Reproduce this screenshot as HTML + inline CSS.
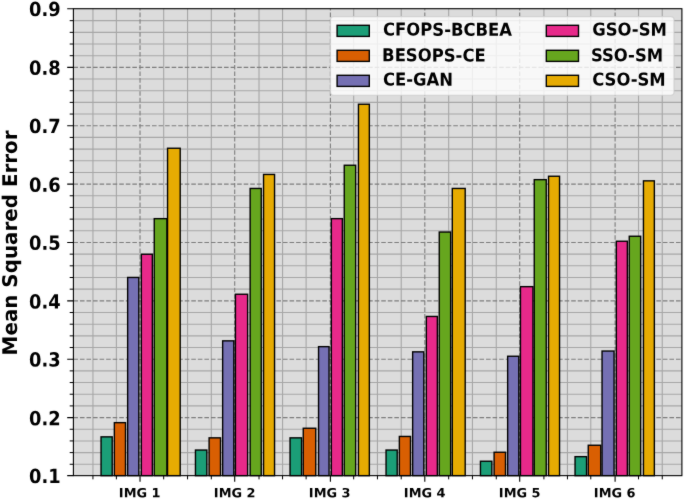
<!DOCTYPE html>
<html><head><meta charset="utf-8"><title>Mean Squared Error</title>
<style>html,body{margin:0;padding:0;background:#fff}svg{display:block}</style></head>
<body>
<svg width="685" height="499" viewBox="0 0 685 499" font-family='"DejaVu Sans","Liberation Sans",sans-serif' font-weight="bold">
<defs><filter id="soft" x="0" y="0" width="685" height="499" filterUnits="userSpaceOnUse" color-interpolation-filters="sRGB"><feConvolveMatrix order="3" kernelMatrix="0.015 0.06 0.015 0.06 0.700 0.06 0.015 0.06 0.015" edgeMode="duplicate" preserveAlpha="true"/></filter></defs>
<rect x="0" y="0" width="685" height="499" fill="#fff"/>
<g filter="url(#soft)">
<rect x="-5" y="-5" width="695" height="509" fill="#fff"/>
<rect x="73.4" y="8.7" width="608.5" height="466.95" fill="#dcdcdc"/>
<path d="M92.95 8.7V475.65M116.38 8.7V475.65M163.68 8.7V475.65M187.55 8.7V475.65M211.32 8.7V475.65M259.02 8.7V475.65M282.55 8.7V475.65M306.12 8.7V475.65M353.68 8.7V475.65M377.45 8.7V475.65M401.23 8.7V475.65M448.68 8.7V475.65M472.45 8.7V475.65M496.27 8.7V475.65M543.92 8.7V475.65M567.45 8.7V475.65M590.77 8.7V475.65M638.52 8.7V475.65M662.25 8.7V475.65M73.4 464.28H681.9M73.4 452.6H681.9M73.4 440.93H681.9M73.4 429.25H681.9M73.4 405.91H681.9M73.4 394.23H681.9M73.4 382.56H681.9M73.4 370.89H681.9M73.4 347.54H681.9M73.4 335.87H681.9M73.4 324.19H681.9M73.4 312.52H681.9M73.4 289.17H681.9M73.4 277.5H681.9M73.4 265.82H681.9M73.4 254.15H681.9M73.4 230.8H681.9M73.4 219.13H681.9M73.4 207.45H681.9M73.4 195.78H681.9M73.4 172.43H681.9M73.4 160.76H681.9M73.4 149.08H681.9M73.4 137.41H681.9M73.4 114.06H681.9M73.4 102.39H681.9M73.4 90.72H681.9M73.4 79.04H681.9M73.4 55.69H681.9M73.4 44.02H681.9M73.4 32.35H681.9M73.4 20.67H681.9" stroke="#a6a6a6" stroke-width="1.1" fill="none"/>
<path d="M140.03 475.65V8.7M234.7 475.65V8.7M330.4 475.65V8.7M424.8 475.65V8.7M519.7 475.65V8.7M615.1 475.65V8.7M73.4 417.58H681.9M73.4 359.21H681.9M73.4 300.84H681.9M73.4 242.47H681.9M73.4 184.11H681.9M73.4 125.74H681.9M73.4 67.37H681.9" stroke="#7c7c7c" stroke-width="1.1" stroke-dasharray="4.57 1.98" fill="none"/>
<rect x="101.05" y="436.85" width="11.15" height="38.80" fill="#1b9e77" stroke="#000" stroke-opacity="1" stroke-width="1.39"/>
<rect x="114.35" y="422.65" width="11.15" height="53.00" fill="#d95f02" stroke="#000" stroke-opacity="1" stroke-width="1.39"/>
<rect x="127.65" y="277.45" width="11.15" height="198.20" fill="#7570b3" stroke="#000" stroke-opacity="1" stroke-width="1.39"/>
<rect x="141.35" y="254.25" width="11.00" height="221.40" fill="#e7298a" stroke="#000" stroke-opacity="1" stroke-width="1.39"/>
<rect x="154.25" y="218.65" width="12.65" height="257.00" fill="#66a61e" stroke="#000" stroke-opacity="1" stroke-width="1.39"/>
<rect x="167.55" y="148.25" width="12.65" height="327.40" fill="#e6ab02" stroke="#000" stroke-opacity="1" stroke-width="1.39"/>
<rect x="195.45" y="450.05" width="11.40" height="25.60" fill="#1b9e77" stroke="#000" stroke-opacity="1" stroke-width="1.39"/>
<rect x="209.10" y="437.85" width="11.40" height="37.80" fill="#d95f02" stroke="#000" stroke-opacity="1" stroke-width="1.39"/>
<rect x="222.65" y="340.85" width="11.15" height="134.80" fill="#7570b3" stroke="#000" stroke-opacity="1" stroke-width="1.39"/>
<rect x="235.45" y="294.25" width="12.15" height="181.40" fill="#e7298a" stroke="#000" stroke-opacity="1" stroke-width="1.39"/>
<rect x="250.15" y="188.45" width="11.10" height="287.20" fill="#66a61e" stroke="#000" stroke-opacity="1" stroke-width="1.39"/>
<rect x="263.55" y="174.45" width="11.00" height="301.20" fill="#e6ab02" stroke="#000" stroke-opacity="1" stroke-width="1.39"/>
<rect x="290.05" y="437.85" width="11.50" height="37.80" fill="#1b9e77" stroke="#000" stroke-opacity="1" stroke-width="1.39"/>
<rect x="303.25" y="428.25" width="12.50" height="47.40" fill="#d95f02" stroke="#000" stroke-opacity="1" stroke-width="1.39"/>
<rect x="318.55" y="346.65" width="10.50" height="129.00" fill="#7570b3" stroke="#000" stroke-opacity="1" stroke-width="1.39"/>
<rect x="331.35" y="218.65" width="11.00" height="257.00" fill="#e7298a" stroke="#000" stroke-opacity="1" stroke-width="1.39"/>
<rect x="344.25" y="165.25" width="11.40" height="310.40" fill="#66a61e" stroke="#000" stroke-opacity="1" stroke-width="1.39"/>
<rect x="358.45" y="104.25" width="10.90" height="371.40" fill="#e6ab02" stroke="#000" stroke-opacity="1" stroke-width="1.39"/>
<rect x="386.05" y="450.05" width="11.15" height="25.60" fill="#1b9e77" stroke="#000" stroke-opacity="1" stroke-width="1.39"/>
<rect x="399.35" y="436.45" width="11.15" height="39.20" fill="#d95f02" stroke="#000" stroke-opacity="1" stroke-width="1.39"/>
<rect x="412.65" y="351.85" width="11.15" height="123.80" fill="#7570b3" stroke="#000" stroke-opacity="1" stroke-width="1.39"/>
<rect x="426.35" y="316.45" width="11.00" height="159.20" fill="#e7298a" stroke="#000" stroke-opacity="1" stroke-width="1.39"/>
<rect x="439.25" y="232.05" width="11.40" height="243.60" fill="#66a61e" stroke="#000" stroke-opacity="1" stroke-width="1.39"/>
<rect x="452.30" y="188.45" width="12.90" height="287.20" fill="#e6ab02" stroke="#000" stroke-opacity="1" stroke-width="1.39"/>
<rect x="480.45" y="461.25" width="11.40" height="14.40" fill="#1b9e77" stroke="#000" stroke-opacity="1" stroke-width="1.39"/>
<rect x="494.10" y="452.25" width="11.40" height="23.40" fill="#d95f02" stroke="#000" stroke-opacity="1" stroke-width="1.39"/>
<rect x="507.65" y="356.25" width="11.15" height="119.40" fill="#7570b3" stroke="#000" stroke-opacity="1" stroke-width="1.39"/>
<rect x="520.45" y="286.65" width="12.50" height="189.00" fill="#e7298a" stroke="#000" stroke-opacity="1" stroke-width="1.39"/>
<rect x="534.25" y="179.65" width="12.00" height="296.00" fill="#66a61e" stroke="#000" stroke-opacity="1" stroke-width="1.39"/>
<rect x="548.55" y="176.25" width="11.00" height="299.40" fill="#e6ab02" stroke="#000" stroke-opacity="1" stroke-width="1.39"/>
<rect x="575.05" y="456.65" width="11.50" height="19.00" fill="#1b9e77" stroke="#000" stroke-opacity="1" stroke-width="1.39"/>
<rect x="588.25" y="445.25" width="12.50" height="30.40" fill="#d95f02" stroke="#000" stroke-opacity="1" stroke-width="1.39"/>
<rect x="602.05" y="351.05" width="12.00" height="124.60" fill="#7570b3" stroke="#000" stroke-opacity="1" stroke-width="1.39"/>
<rect x="616.35" y="241.25" width="11.00" height="234.40" fill="#e7298a" stroke="#000" stroke-opacity="1" stroke-width="1.39"/>
<rect x="629.25" y="236.25" width="11.40" height="239.40" fill="#66a61e" stroke="#000" stroke-opacity="1" stroke-width="1.39"/>
<rect x="643.45" y="180.85" width="10.90" height="294.80" fill="#e6ab02" stroke="#000" stroke-opacity="1" stroke-width="1.39"/>
<rect x="73.4" y="8.7" width="608.5" height="466.95" fill="none" stroke="#000" stroke-width="1.1"/>
<path d="M140.03 475.65v6.2M234.7 475.65v6.2M330.4 475.65v6.2M424.8 475.65v6.2M519.7 475.65v6.2M615.1 475.65v6.2M73.4 475.65h-6.2M73.4 417.58h-6.2M73.4 359.21h-6.2M73.4 300.84h-6.2M73.4 242.47h-6.2M73.4 184.11h-6.2M73.4 125.74h-6.2M73.4 67.37h-6.2M73.4 8.7h-6.2" stroke="#000" stroke-width="1.1" fill="none"/>
<path d="M92.95 475.65v3.7M116.38 475.65v3.7M163.68 475.65v3.7M187.55 475.65v3.7M211.32 475.65v3.7M259.02 475.65v3.7M282.55 475.65v3.7M306.12 475.65v3.7M353.68 475.65v3.7M377.45 475.65v3.7M401.23 475.65v3.7M448.68 475.65v3.7M472.45 475.65v3.7M496.27 475.65v3.7M543.92 475.65v3.7M567.45 475.65v3.7M590.77 475.65v3.7M638.52 475.65v3.7M662.25 475.65v3.7M73.4 464.28h-3.7M73.4 452.6h-3.7M73.4 440.93h-3.7M73.4 429.25h-3.7M73.4 405.91h-3.7M73.4 394.23h-3.7M73.4 382.56h-3.7M73.4 370.89h-3.7M73.4 347.54h-3.7M73.4 335.87h-3.7M73.4 324.19h-3.7M73.4 312.52h-3.7M73.4 289.17h-3.7M73.4 277.5h-3.7M73.4 265.82h-3.7M73.4 254.15h-3.7M73.4 230.8h-3.7M73.4 219.13h-3.7M73.4 207.45h-3.7M73.4 195.78h-3.7M73.4 172.43h-3.7M73.4 160.76h-3.7M73.4 149.08h-3.7M73.4 137.41h-3.7M73.4 114.06h-3.7M73.4 102.39h-3.7M73.4 90.72h-3.7M73.4 79.04h-3.7M73.4 55.69h-3.7M73.4 44.02h-3.7M73.4 32.35h-3.7M73.4 20.67h-3.7" stroke="#000" stroke-width="1.0" fill="none"/>
<text transform="translate(60.7 483.00) rotate(0.03) scale(0.92 1)" font-size="19.44" text-anchor="end">0.1</text>
<text transform="translate(60.7 425.23) rotate(0.03) scale(0.92 1)" font-size="19.44" text-anchor="end">0.2</text>
<text transform="translate(60.7 366.56) rotate(0.03) scale(0.92 1)" font-size="19.44" text-anchor="end">0.3</text>
<text transform="translate(60.7 308.44) rotate(0.03) scale(0.92 1)" font-size="19.44" text-anchor="end">0.4</text>
<text transform="translate(60.7 249.67) rotate(0.03) scale(0.92 1)" font-size="19.44" text-anchor="end">0.5</text>
<text transform="translate(60.7 191.81) rotate(0.03) scale(0.92 1)" font-size="19.44" text-anchor="end">0.6</text>
<text transform="translate(60.7 132.99) rotate(0.03) scale(0.92 1)" font-size="19.44" text-anchor="end">0.7</text>
<text transform="translate(60.7 74.77) rotate(0.03) scale(0.92 1)" font-size="19.44" text-anchor="end">0.8</text>
<text transform="translate(60.7 15.95) rotate(0.03) scale(0.92 1)" font-size="19.44" text-anchor="end">0.9</text>
<text transform="translate(139.70 497.25) rotate(0.03) scale(1.025 1)" font-size="12.6" text-anchor="middle">IMG 1</text>
<text transform="translate(234.70 497.25) rotate(0.03) scale(1.025 1)" font-size="12.6" text-anchor="middle">IMG 2</text>
<text transform="translate(329.70 497.25) rotate(0.03) scale(1.025 1)" font-size="12.6" text-anchor="middle">IMG 3</text>
<text transform="translate(424.70 497.25) rotate(0.03) scale(1.025 1)" font-size="12.6" text-anchor="middle">IMG 4</text>
<text transform="translate(519.70 497.25) rotate(0.03) scale(1.025 1)" font-size="12.6" text-anchor="middle">IMG 5</text>
<text transform="translate(614.70 497.25) rotate(0.03) scale(1.025 1)" font-size="12.6" text-anchor="middle">IMG 6</text>
<text transform="translate(17.0 242.9) rotate(-90.03) scale(0.985 1)" font-size="20.2" text-anchor="middle">Mean Squared Error</text>
<rect x="330.5" y="16.6" width="343.5" height="78.6" rx="3.2" ry="3.2" fill="#fff" fill-opacity="0.8" stroke="#ccc" stroke-opacity="0.8" stroke-width="1.1"/>
<rect x="337.1" y="25.30" width="32.2" height="11.1" fill="#1b9e77" stroke="#000" stroke-width="1.39"/>
<text transform="translate(383.0 35.6) rotate(0.03) scale(0.929 1)" font-size="17.7">CFOPS-BCBEA</text>
<rect x="337.1" y="50.30" width="32.2" height="11.1" fill="#d95f02" stroke="#000" stroke-width="1.39"/>
<text transform="translate(382.1 61.35) rotate(0.03) scale(0.929 1)" font-size="17.7">BESOPS-CE</text>
<rect x="337.1" y="75.30" width="32.2" height="11.1" fill="#7570b3" stroke="#000" stroke-width="1.39"/>
<text transform="translate(383.0 85.6) rotate(0.03) scale(0.929 1)" font-size="17.7">CE-GAN</text>
<rect x="546.3" y="25.30" width="32.2" height="11.1" fill="#e7298a" stroke="#000" stroke-width="1.39"/>
<text transform="translate(592.2 35.6) rotate(0.03) scale(0.929 1)" font-size="17.7">GSO-SM</text>
<rect x="546.3" y="50.30" width="32.2" height="11.1" fill="#66a61e" stroke="#000" stroke-width="1.39"/>
<text transform="translate(590.9 61.35) rotate(0.03) scale(0.929 1)" font-size="17.7">SSO-SM</text>
<rect x="546.3" y="75.30" width="32.2" height="11.1" fill="#e6ab02" stroke="#000" stroke-width="1.39"/>
<text transform="translate(592.2 85.6) rotate(0.03) scale(0.929 1)" font-size="17.7">CSO-SM</text>
</g>
</svg>
</body></html>
